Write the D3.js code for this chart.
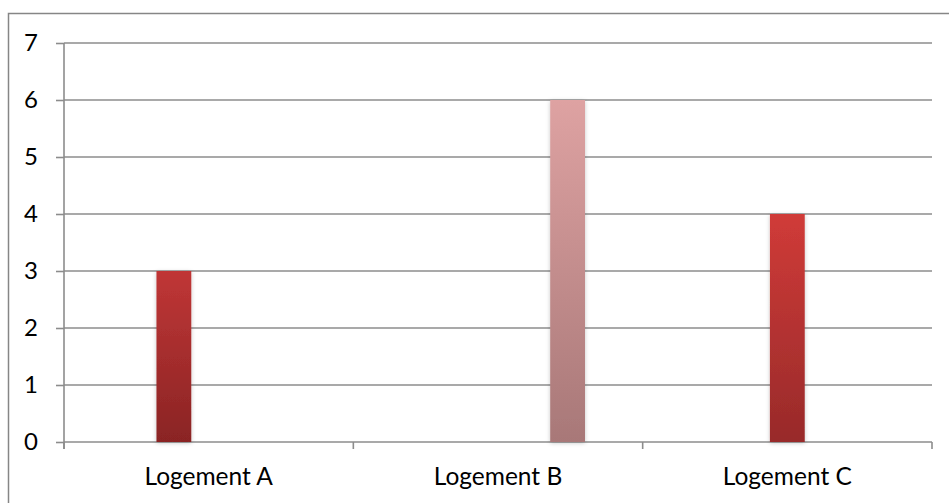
<!DOCTYPE html>
<html><head><meta charset="utf-8">
<script src="https://cdn.jsdelivr.net/npm/d3@7"></script>
<style>body{margin:0;background:#fff;}svg{display:block;}</style>
</head><body>
<script>
// Data
const categories = ["Logement A", "Logement B", "Logement C"];
const seriesNames = ["S1", "S2", "S3", "S4", "S5"];
const seriesValues = [
  [0, 0, 0],
  [3, 0, 0],
  [0, 0, 4],
  [0, 0, 0],
  [0, 6, 0]
];
const yTicks = [0, 1, 2, 3, 4, 5, 6, 7];
const barColors = {
  "Logement A": ["#c03636", "#8a2424"],
  "Logement B": ["#dea2a2", "#a87878"],
  "Logement C": ["#d03b38", "#982a2a"]
};

const W = 949, H = 503;
const svg = d3.select("body").append("svg").attr("width", W).attr("height", H);

const mLeft = 64, mRight = 932, mTop = 43, mBottom = 442;
const x0 = d3.scaleBand().domain(categories).range([mLeft, mRight]).padding(0);
const groupW = 174;
const x1 = d3.scaleBand().domain(seriesNames).range([-groupW / 2, groupW / 2]);
const y = d3.scaleLinear().domain([0, 7]).range([mBottom, mTop]);

const defs = svg.append("defs");
categories.forEach((c, i) => {
  const g = defs.append("linearGradient").attr("id", "grad" + i)
    .attr("x1", 0).attr("y1", 0).attr("x2", 0).attr("y2", 1);
  g.append("stop").attr("offset", "0%").attr("stop-color", barColors[c][0]);
  g.append("stop").attr("offset", "100%").attr("stop-color", barColors[c][1]);
});
const f = defs.append("filter").attr("id", "shadow").attr("x", "-50%").attr("y", "-10%").attr("width", "200%").attr("height", "120%");
f.append("feDropShadow").attr("dx", 0).attr("dy", 1).attr("stdDeviation", 2).attr("flood-color", "#000").attr("flood-opacity", 0.22);

// outer border
svg.append("rect").attr("x", 8.5).attr("y", 13.5).attr("width", W).attr("height", H)
  .attr("fill", "none").attr("stroke", "#868686").attr("stroke-width", 1.5);

// gridlines + y axis
const yAxis = d3.axisLeft(y).tickValues(yTicks).tickSize(8).tickFormat(d3.format("d"));
const gy = svg.append("g").attr("transform", `translate(${mLeft},0)`).call(yAxis);
gy.select(".domain").remove();
gy.selectAll(".tick line").attr("stroke", "#8c8c8c").attr("stroke-width", 1.6);
gy.selectAll(".tick text").attr("x", -26).attr("font-family", "Lato, 'Open Sans', sans-serif")
  .attr("font-size", 24).attr("fill", "#000");

svg.append("g").selectAll("line").data(yTicks).join("line")
  .attr("x1", mLeft).attr("x2", mRight)
  .attr("y1", d => y(d)).attr("y2", d => y(d))
  .attr("stroke", "#8c8c8c").attr("stroke-width", 1.6);

svg.append("line").attr("x1", mLeft).attr("x2", mLeft).attr("y1", mTop).attr("y2", mBottom + 7)
  .attr("stroke", "#8c8c8c").attr("stroke-width", 1.6);

// x axis
const xTickPos = categories.map(c => x0(c)).concat([mRight]);
svg.append("g").selectAll("line").data(xTickPos).join("line")
  .attr("x1", d => d).attr("x2", d => d).attr("y1", mBottom).attr("y2", mBottom + 7)
  .attr("stroke", "#8c8c8c").attr("stroke-width", 1.6);
svg.append("g").selectAll("text").data(categories).join("text")
  .attr("x", d => x0(d) + x0.bandwidth() / 2).attr("y", 485)
  .attr("text-anchor", "middle")
  .attr("font-family", "Lato, 'Open Sans', sans-serif").attr("font-size", 24.5).attr("fill", "#000")
  .text(d => d);

// bars
const bars = [];
seriesNames.forEach((s, si) => {
  categories.forEach((c, ci) => {
    const v = seriesValues[si][ci];
    if (v > 0) bars.push({ s, c, ci, v });
  });
});
svg.append("g").selectAll("rect").data(bars).join("rect")
  .attr("x", d => x0(d.c) + x0.bandwidth() / 2 + x1(d.s))
  .attr("width", x1.bandwidth())
  .attr("y", d => y(d.v))
  .attr("height", d => y(0) - y(d.v))
  .attr("fill", d => `url(#grad${d.ci})`)
  .attr("filter", "url(#shadow)");
</script>
</body></html>
